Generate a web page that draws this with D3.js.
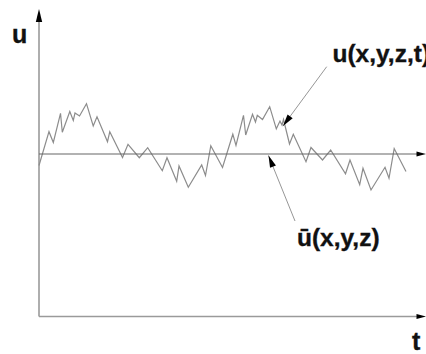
<!DOCTYPE html>
<html>
<head>
<meta charset="utf-8">
<script src="https://cdn.jsdelivr.net/npm/d3@7"></script>
<style>
  html, body { margin: 0; padding: 0; background: #fff; }
  svg { display: block; }
  text { font-family: "Liberation Sans", Arial, Helvetica, sans-serif; font-weight: bold; fill: #111; stroke: #111; stroke-width: 0.35; }
</style>
</head>
<body>
<svg id="chart" width="426" height="354"></svg>
<script>
// Fluctuating velocity u(x,y,z,t) sampled over time, and its mean.
const tValues = [0.0, 2.58, 3.70, 5.56, 6.02, 7.96, 8.86, 9.30, 10.47, 12.27,
  14.01, 14.99, 17.70, 18.29, 21.58, 23.00, 25.92, 28.09, 31.86, 33.07,
  35.58, 36.18, 38.58, 42.04, 43.02, 44.39, 47.42, 50.08, 50.90, 52.84,
  53.41, 55.17, 55.94, 56.41, 57.75, 59.61, 61.32, 62.27, 62.79, 63.18,
  64.73, 65.71, 68.99, 70.28, 73.26, 75.37, 79.20, 80.36, 82.87, 83.72,
  85.79, 89.41, 90.44, 91.78, 94.83];
const uValues = [-1.15, 2.23, 1.15, 4.07, 2.17, 4.25, 3.35, 4.10, 3.80, 5.03,
  2.80, 3.73, 1.23, 2.23, -0.35, 0.97, -0.37, 0.63, -1.67, -0.37,
  -2.73, -1.20, -3.33, -1.10, -2.15, 0.82, -1.35, 1.98, 0.85, 3.87,
  1.90, 3.98, 3.20, 3.87, 3.45, 4.73, 2.52, 3.30, 2.90, 3.45,
  1.00, 1.97, -0.77, 0.65, -0.60, 0.40, -1.98, -0.60, -3.06, -1.43,
  -3.60, -1.33, -2.43, 0.54, -1.75];
const uMean = 0;

// Axis extents in data units
const tDomain = [0, 100];
const uDomain = [-16.25, 14.5];

// Callouts: label, start point and arrow tip (t, u)
const calloutLabels = ["u(x,y,z,t)", "\u016B(x,y,z)"];
const calloutFrom = [[74.34, 8.73], [66.15, -6.7]];
const calloutTo = [[63.05, 2.8], [59.30, -0.15]];

const axisLabels = ["u", "t"];

const svg = d3.select("#chart");
const x = d3.scaleLinear().domain(tDomain).range([39, 426]);
const y = d3.scaleLinear().domain(uDomain).range([316.5, 9]);

// Filled triangular arrowhead pointing from (x0,y0) toward tip (x1,y1)
function arrowHead(g, x0, y0, x1, y1, len, half) {
  const dx = x1 - x0, dy = y1 - y0, d = Math.hypot(dx, dy);
  const ux = dx / d, uy = dy / d;
  const bx = x1 - ux * len, by = y1 - uy * len;
  const pts = [[x1, y1], [bx - uy * half, by + ux * half], [bx + uy * half, by - ux * half]];
  g.append("path").attr("d", "M" + pts.map(p => p.join(",")).join("L") + "Z")
    .attr("fill", "#000").attr("stroke", "none");
}

// Axes
const axes = svg.append("g");
axes.append("line")
  .attr("x1", x(0)).attr("y1", y(uDomain[0]))
  .attr("x2", x(0)).attr("y2", y(uDomain[1]) + 6)
  .attr("stroke", "#9a9a9a").attr("stroke-width", 1.6);
axes.append("line")
  .attr("x1", x(0)).attr("y1", y(uDomain[0]))
  .attr("x2", x(tDomain[1]) - 6).attr("y2", y(uDomain[0]))
  .attr("stroke", "#9a9a9a").attr("stroke-width", 1.6);
arrowHead(axes, x(0), y(0), x(0), y(uDomain[1]), 13, 3.2);
arrowHead(axes, x(0), y(uDomain[0]), x(tDomain[1]), y(uDomain[0]), 9.5, 2.6);

// Signal
const line = d3.line().x((d, i) => x(tValues[i])).y(d => y(d));
svg.append("path")
  .datum(uValues)
  .attr("d", line)
  .attr("fill", "none")
  .attr("stroke", "#8c8c8c")
  .attr("stroke-width", 1.2)
  .attr("stroke-linejoin", "miter");

// Mean line
svg.append("line")
  .attr("x1", x(0)).attr("y1", y(uMean))
  .attr("x2", x(tDomain[1]) - 6).attr("y2", y(uMean))
  .attr("stroke", "#666").attr("stroke-width", 1.2);
arrowHead(svg, x(0), y(uMean), x(tDomain[1]), y(uMean), 9.5, 2.6);

// Callout arrows
const callouts = svg.append("g");
calloutFrom.forEach((f, i) => {
  const t = calloutTo[i];
  callouts.append("line")
    .attr("x1", x(f[0])).attr("y1", y(f[1]))
    .attr("x2", x(t[0])).attr("y2", y(t[1]))
    .attr("stroke", "#8a8a8a").attr("stroke-width", 0.9);
  arrowHead(callouts, x(f[0]), y(f[1]), x(t[0]), y(t[1]), 12, 3.2);
});

// Labels
svg.append("text").attr("x", 12).attr("y", 43).attr("font-size", 25).text(axisLabels[0]);
svg.append("text").attr("x", 412).attr("y", 350).attr("font-size", 25).text(axisLabels[1]);
svg.append("text").attr("x", 332.5).attr("y", 62).attr("font-size", 24.5).text(calloutLabels[0]);
svg.append("text").attr("x", 297).attr("y", 246).attr("font-size", 24.5).text(calloutLabels[1]);
</script>
</body>
</html>
